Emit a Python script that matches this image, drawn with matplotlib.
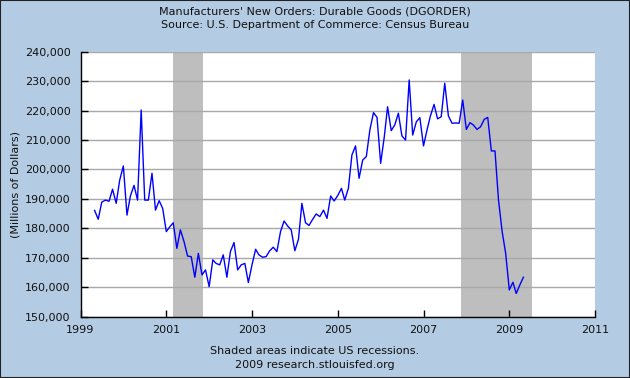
import matplotlib
matplotlib.use("Agg")
import matplotlib.pyplot as plt
import matplotlib.dates as mdates
from matplotlib.patches import Rectangle
from matplotlib.ticker import FuncFormatter
import pandas as pd

# ---- data ----
start_month = "1999-05-01"
values = [
    186100, 183100, 188900, 189600, 189200, 193300, 188500, 196400, 201200, 184500,
    191000, 194600, 189600, 220200, 189600, 189600, 198700, 186200, 189400, 186800,
    178900, 180600, 181900, 173200, 179500, 175500, 170600, 170400, 163400, 171500,
    164200, 165900, 160200, 169300, 168100, 167600, 171000, 163400, 172100, 175200,
    165900, 167600, 168100, 161600, 167600, 172900, 171000, 170200, 170400, 172400,
    173600, 172100, 178900, 182500, 180800, 179500, 172400, 176300, 188500, 181900,
    181000, 183100, 184900, 184000, 186200, 183400, 191000, 189300, 191200, 193600,
    189600, 193600, 204900, 208000, 197000, 203200, 204400, 213400, 219300, 217700,
    202100, 211100, 221300, 213200, 215100, 219100, 211400, 210000, 230400, 211700,
    216200, 217600, 208000, 213600, 218200, 222100, 217200, 217900, 229300, 218200,
    215700, 215800, 215700, 223600, 213600, 215900, 215100, 213600, 214500, 217000,
    217700, 206300, 206300, 189600, 178900, 171500, 159100, 161700, 157900, 160800,
    163400,
]
recessions = [("2001-03-01", "2001-11-10"), ("2007-11-20", "2009-07-15")]
x_tick_years = [1999, 2001, 2003, 2005, 2007, 2009, 2011]
y_ticks = [150000, 160000, 170000, 180000, 190000, 200000, 210000, 220000, 230000, 240000]

title_lines = ["Manufacturers' New Orders: Durable Goods (DGORDER)",
               "Source: U.S. Department of Commerce: Census Bureau"]
footer_lines = ["Shaded areas indicate US recessions.",
                "2009 research.stlouisfed.org"]
y_label = "(Millions of Dollars)"

dates = pd.date_range(start_month, periods=len(values), freq="MS")

# ---- figure ----
bg = "#B3CCE4"
fig = plt.figure(figsize=(6.3, 3.78), dpi=100, facecolor=bg)
ax = fig.add_axes([80.5 / 630, 1 - 316.7 / 378, (595 - 80.5) / 630, (316.7 - 51.7) / 378])
ax.set_facecolor("white")

for s, e in recessions:
    ax.axvspan(pd.Timestamp(s), pd.Timestamp(e), color="#BEBEBE", lw=0, zorder=1)

ax.plot(dates, values, color="#0000FF", lw=1.0, zorder=3)

ax.set_xlim(pd.Timestamp("1999-01-01"), pd.Timestamp("2011-01-01"))
ax.set_ylim(150000, 240000)
ax.set_xticks([pd.Timestamp(f"{y}-01-01") for y in x_tick_years])
ax.xaxis.set_major_formatter(mdates.DateFormatter("%Y"))
ax.set_yticks(y_ticks)
ax.yaxis.set_major_formatter(FuncFormatter(lambda v, p: f"{int(v):,}"))

ax.grid(axis="y", color="#A8A8A8", lw=1.0, zorder=2)
ax.set_axisbelow(False)
for sp in ["top", "right"]:
    ax.spines[sp].set_visible(False)
for sp in ["left", "bottom"]:
    ax.spines[sp].set_color("black")
    ax.spines[sp].set_linewidth(1.0)
    ax.spines[sp].set_zorder(4)

ax.tick_params(axis="both", direction="in", length=5, width=1, colors="black",
               labelsize=8, labelcolor="#111111")
ax.tick_params(axis="x", pad=6)
ax.tick_params(axis="y", pad=7)

ax.set_ylabel(y_label, fontsize=8, color="#111111", labelpad=3)

fig.text(0.5, 1 - 11 / 378, title_lines[0], ha="center", va="center", fontsize=8, color="#111111")
fig.text(0.5, 1 - 25.5 / 378, title_lines[1], ha="center", va="center", fontsize=8, color="#111111")
fig.text(0.5, 1 - 351.5 / 378, footer_lines[0], ha="center", va="center", fontsize=8, color="#111111")
fig.text(0.5, 1 - 365.5 / 378, footer_lines[1], ha="center", va="center", fontsize=8, color="#111111")

fig.patches.append(Rectangle((0, 0), 1, 1, transform=fig.transFigure, fill=False,
                             edgecolor="#222222", lw=1.5))

fig.savefig("out.png", dpi=100, facecolor=bg)
